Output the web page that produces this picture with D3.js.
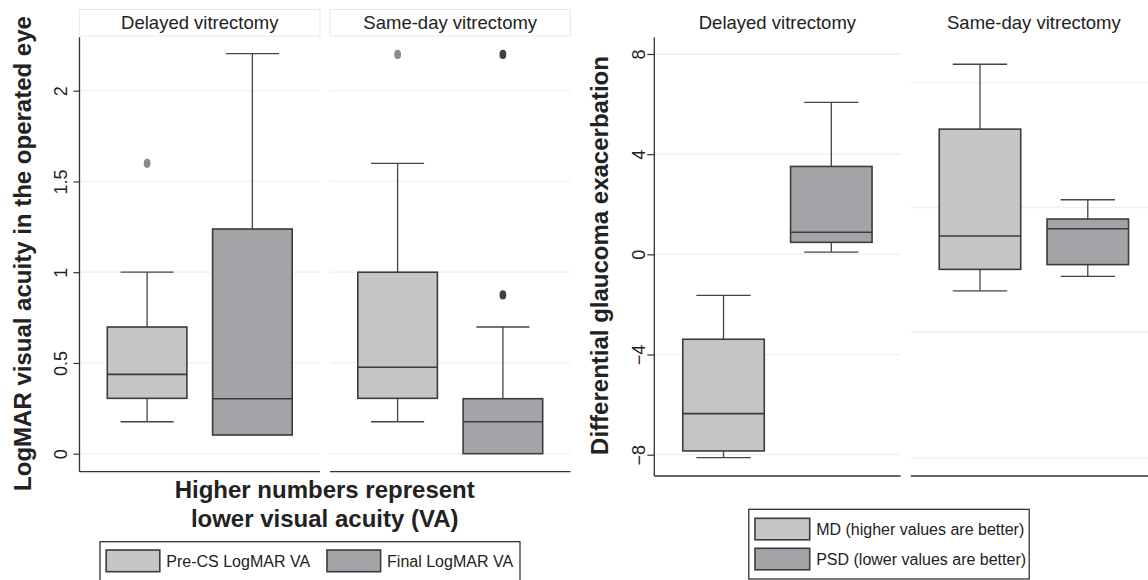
<!DOCTYPE html>
<html>
<head>
<meta charset="utf-8">
<script src="https://cdn.jsdelivr.net/npm/d3@7"></script>
<style>
  body { margin: 0; background: #fff; }
  svg { display: block; font-family: 'Liberation Sans', Arial, sans-serif; }
</style>
</head>
<body>
<div id="chart"></div>
<script>
// Data: five-number summaries [lowWhisker, q1, median, q3, highWhisker] per group
const groups = ['Delayed vitrectomy', 'Same-day vitrectomy']

const vaSeries = ['Pre-CS LogMAR VA', 'Final LogMAR VA']
const vaPreStats = [[0.176, 0.305, 0.437, 0.698, 1.0], [0.176, 0.305, 0.476, 1.0, 1.6]]
const vaFinalStats = [[0.103, 0.103, 0.303, 1.238, 2.204], [0, 0, 0.176, 0.303, 0.698]]
const vaPreOutliers = [[1.6], [2.2]]
const vaFinalOutliers = [[], [0.875, 2.2]]
const vaTicks = [0, 0.5, 1, 1.5, 2]

const glSeries = ['MD (higher values are better)', 'PSD (lower values are better)']
const glMDStats = [[-8.12, -7.85, -6.36, -3.39, -1.64], [-1.46, -0.6, 0.73, 5.0, 7.59]]
const glPSDStats = [[0.09, 0.48, 0.88, 3.51, 6.07], [-0.88, -0.41, 1.02, 1.41, 2.18]]
const glTicks = [-8, -4, 0, 4, 8]
// the same-day panel of the glaucoma chart has its own (shifted) grid
const glSameDayGrid = [6.86, 1.87, -3.11, -8.14]

const W = 1148, H = 580
const lightFill = '#c4c5c7'
const darkFill = '#a3a4a7'
const gridColor = '#e9f1f3'

const svg = d3.select('#chart').append('svg')
  .attr('width', W)
  .attr('height', H)
svg.append('rect').attr('width', W).attr('height', H).attr('fill', '#fff')

function drawPanel(cfg) {
  const g = svg.append('g')
  const y = d3.scaleLinear().domain(cfg.domain).range(cfg.range)
  const gx = d3.scaleBand().domain(groups).range(cfg.xRange).paddingInner(0.04)
  const sx = d3.scaleBand().domain(cfg.series).range([0, gx.bandwidth()])
    .paddingInner(0.244).paddingOuter(0.264)
  const fills = [lightFill, darkFill]
  const outColors = ['#8a8a8a', '#404040']

  groups.forEach((grp, gi) => {
    const x0 = gx(grp)
    const sub = g.append('g').attr('transform', `translate(${x0},0)`)

    // gridlines
    const gridVals = (gi === 1 && cfg.sameDayGrid) ? cfg.sameDayGrid : cfg.ticks
    sub.selectAll('line.grid')
      .data(gridVals)
      .join('line')
      .attr('class', 'grid')
      .attr('x1', 0).attr('x2', gx.bandwidth())
      .attr('y1', d => y(d)).attr('y2', d => y(d))
      .attr('stroke', gridColor)
      .attr('stroke-width', 1.3)

    // header
    if (cfg.headerBox) {
      sub.append('rect')
        .attr('x', 0).attr('y', 9.5)
        .attr('width', gx.bandwidth()).attr('height', 26.5)
        .attr('fill', 'none')
        .attr('stroke', '#e2eaec')
    }
    sub.append('text')
      .attr('x', gx.bandwidth() / 2)
      .attr('y', 29)
      .attr('text-anchor', 'middle')
      .attr('font-size', 18.5)
      .attr('fill', '#222')
      .text(grp)

    // bottom axis line
    sub.append('line')
      .attr('x1', 0).attr('x2', gx.bandwidth())
      .attr('y1', cfg.bottom).attr('y2', cfg.bottom)
      .attr('stroke', '#333').attr('stroke-width', 1.3)

    // boxes
    cfg.series.forEach((s, si) => {
      const st = cfg.stats[si][gi]
      const bx = sx(s), bw = sx.bandwidth(), cx = bx + bw / 2
      const capW = bw * 2 / 3
      const box = sub.append('g')
      // whiskers
      box.append('line')
        .attr('x1', cx).attr('x2', cx)
        .attr('y1', y(st[3])).attr('y2', y(st[4]))
        .attr('stroke', '#444').attr('stroke-width', 1.3)
      box.append('line')
        .attr('x1', cx).attr('x2', cx)
        .attr('y1', y(st[1])).attr('y2', y(st[0]))
        .attr('stroke', '#444').attr('stroke-width', 1.3)
      box.selectAll('line.cap')
        .data([st[0], st[4]].filter((v, i) => i === 1 ? v > st[3] : v < st[1]))
        .join('line')
        .attr('class', 'cap')
        .attr('x1', cx - capW / 2).attr('x2', cx + capW / 2)
        .attr('y1', d => y(d)).attr('y2', d => y(d))
        .attr('stroke', '#444').attr('stroke-width', 1.3)
      box.append('rect')
        .attr('x', bx).attr('width', bw)
        .attr('y', y(st[3])).attr('height', y(st[1]) - y(st[3]))
        .attr('fill', fills[si])
        .attr('stroke', '#3c3c3c').attr('stroke-width', 1.6)
      box.append('line')
        .attr('x1', bx).attr('x2', bx + bw)
        .attr('y1', y(st[2])).attr('y2', y(st[2]))
        .attr('stroke', '#3c3c3c').attr('stroke-width', 1.6)
      // outliers
      const outs = cfg.outliers ? cfg.outliers[si][gi] : []
      box.selectAll('ellipse')
        .data(outs)
        .join('ellipse')
        .attr('cx', cx).attr('cy', d => y(d))
        .attr('rx', 3.4).attr('ry', 4.6)
        .attr('fill', outColors[si])
    })
  })

  // y axis
  const axis = g.append('g')
    .attr('transform', `translate(${cfg.xRange[0]},0)`)
    .call(d3.axisLeft(y)
      .tickValues(cfg.ticks)
      .tickFormat(d3.format('~g'))
      .tickSize(cfg.tickSize)
      .tickSizeOuter(0))
  axis.select('.domain').remove()
  axis.append('line')
    .attr('x1', 0).attr('x2', 0)
    .attr('y1', 37.3).attr('y2', cfg.bottom)
    .attr('stroke', '#333').attr('stroke-width', 1.3)
  axis.selectAll('.tick line').attr('stroke', '#333').attr('stroke-width', 1.2)
  axis.selectAll('.tick text')
    .attr('x', 0).attr('dy', 0)
    .attr('transform', `translate(${-cfg.labelOffset},0) rotate(-90)`)
    .attr('text-anchor', 'middle')
    .attr('font-size', 18)
    .attr('font-family', "'Liberation Sans', Arial, sans-serif")
    .attr('fill', '#222')

  // y title
  g.append('text')
    .attr('transform', `translate(${cfg.titleX},${cfg.titleY}) rotate(-90)`)
    .attr('text-anchor', 'middle')
    .attr('font-size', 24)
    .attr('font-weight', 'bold')
    .attr('fill', '#222')
    .text(cfg.yTitle)

  // legend
  const lg = cfg.legend
  svg.append('rect')
    .attr('x', lg.x).attr('y', lg.y)
    .attr('width', lg.w).attr('height', lg.h)
    .attr('fill', '#fff').attr('stroke', '#222').attr('stroke-width', 1.2)
  cfg.series.forEach((s, i) => {
    const p = lg.items[i]
    svg.append('rect')
      .attr('x', p[0]).attr('y', p[1])
      .attr('width', lg.sw).attr('height', lg.sh)
      .attr('fill', fills[i])
      .attr('stroke', '#3c3c3c').attr('stroke-width', 1.6)
    svg.append('text')
      .attr('x', p[0] + lg.sw + 6.5)
      .attr('y', p[1] + lg.sh / 2 + 5.8)
      .attr('font-size', 16)
      .attr('fill', '#222')
      .text(s)
  })
}

// Left chart: visual acuity
drawPanel({
  series: vaSeries,
  stats: [vaPreStats, vaFinalStats],
  outliers: [vaPreOutliers, vaFinalOutliers],
  ticks: vaTicks,
  domain: [0, 2],
  range: [453.7, 90.7],
  xRange: [79.5, 570.5],
  bottom: 471.7,
  tickSize: 6,
  labelOffset: 12.2,
  headerBox: true,
  yTitle: 'LogMAR visual acuity in the operated eye',
  titleX: 30.5,
  titleY: 253.5,
  legend: { x: 100, y: 541.7, w: 420, h: 50, sw: 53.6, sh: 21.7,
            items: [[106.2, 550], [327, 550]] }
})

svg.append('text')
  .attr('x', 324.7)
  .attr('text-anchor', 'middle')
  .attr('font-size', 24)
  .attr('font-weight', 'bold')
  .attr('fill', '#222')
  .selectAll('tspan')
  .data(['Higher numbers represent', 'lower visual acuity (VA)'])
  .join('tspan')
  .attr('x', 324.7)
  .attr('y', (d, i) => 498.3 + i * 28.4)
  .text(d => d)

// Right chart: glaucoma exacerbation
drawPanel({
  series: glSeries,
  stats: [glMDStats, glPSDStats],
  outliers: null,
  ticks: glTicks,
  sameDayGrid: glSameDayGrid,
  domain: [-8, 8],
  range: [454.7, 54],
  xRange: [654.3, 1157],
  bottom: 476,
  tickSize: 7,
  labelOffset: 9.3,
  headerBox: false,
  yTitle: 'Differential glaucoma exacerbation',
  titleX: 608,
  titleY: 255.5,
  legend: { x: 748.8, y: 509.3, w: 280.4, h: 69.7, sw: 54.7, sh: 21.5,
            items: [[755, 518.3], [755, 548.3]] }
})
</script>
</body>
</html>
